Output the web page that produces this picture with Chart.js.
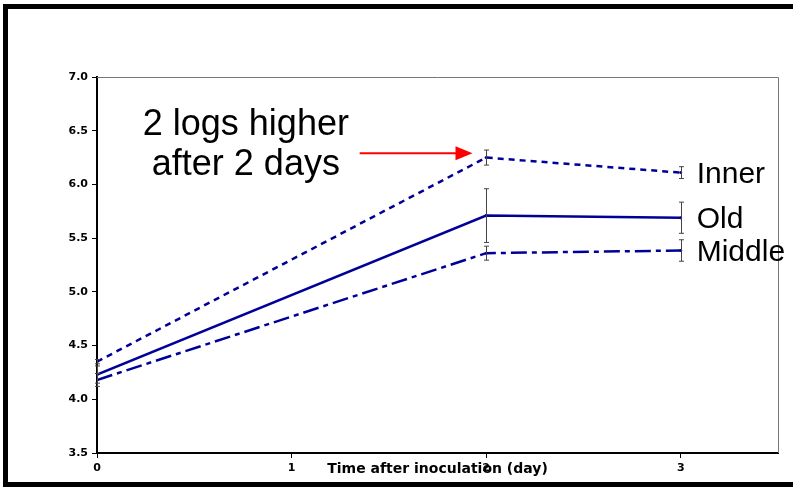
<!DOCTYPE html>
<html>
<head>
<meta charset="utf-8">
<script src="https://cdn.jsdelivr.net/npm/chart.js@4"></script>
<style>
  html, body { margin: 0; padding: 0; background: #fff; overflow: hidden; }
  #frame { position: absolute; left: 3px; top: 4px; width: 820px; height: 473px;
           border-top: 5px solid #000; border-left: 5px solid #000; border-bottom: 5px solid #000; }
  #wrap { position: absolute; left: 0; top: 0; width: 793px; height: 487px; }
</style>
</head>
<body>
<div id="frame"></div>
<div id="wrap"><canvas id="chart"></canvas></div>
<script>
// days after inoculation
const days = [0, 2, 3];
const xTicks = [0, 1, 2, 3];
const yTicks = [3.5, 4.0, 4.5, 5.0, 5.5, 6.0, 6.5, 7.0];

// log counts per zone
const seriesNames = ['Inner', 'Old', 'Middle'];
const inner = [4.35, 6.25, 6.11];
const old = [4.23, 5.71, 5.69];
const middle = [4.18, 5.36, 5.385];

// error bars (+/-)
const innerErr = [0.02, 0.07, 0.055];
const oldErr = [0.08, 0.25, 0.145];
const middleErr = [0.06, 0.065, 0.1];

const xTitle = 'Time after inoculation (day)';
const noteLines = ['2 logs higher', 'after 2 days'];
const noteAt = [0.765, 6.55, 6.18];       // x, y line 1, y line 2
const arrowFrom = [1.35, 6.29];
const arrowTo = [1.93, 6.29];

const navy = '#000099';

function pts(ys) {
  return days.map((d, i) => ({ x: d, y: ys[i] }));
}

const errPlugin = {
  id: 'errbars',
  afterDatasetsDraw(chart) {
    const ctx = chart.ctx;
    const xs = chart.scales.x, ys = chart.scales.y;
    ctx.save();
    ctx.strokeStyle = '#444';
    ctx.lineWidth = 1;
    chart.data.datasets.forEach(ds => {
      ds.data.forEach((p, i) => {
        const e = ds.err[i];
        const px = Math.round(xs.getPixelForValue(p.x)) + 0.5;
        const top = ys.getPixelForValue(p.y + e);
        const bot = ys.getPixelForValue(p.y - e);
        ctx.beginPath();
        ctx.moveTo(px, top); ctx.lineTo(px, bot);
        ctx.moveTo(px - 2.5, top); ctx.lineTo(px + 2.5, top);
        ctx.moveTo(px - 2.5, bot); ctx.lineTo(px + 2.5, bot);
        ctx.stroke();
      });
    });
    ctx.restore();
  }
};

const textPlugin = {
  id: 'texts',
  afterDraw(chart) {
    const ctx = chart.ctx;
    const xs = chart.scales.x, ys = chart.scales.y;
    const a = chart.chartArea;
    ctx.save();
    // plot box top / right
    ctx.strokeStyle = '#777';
    ctx.lineWidth = 1;
    ctx.beginPath();
    ctx.moveTo(a.left, a.top + 0.5); ctx.lineTo(a.right + 0.5, a.top + 0.5);
    ctx.lineTo(a.right + 0.5, a.bottom);
    ctx.stroke();

    // axis title, sitting on the tick label row
    ctx.fillStyle = '#000';
    ctx.font = 'bold 14px "DejaVu Sans"';
    ctx.textAlign = 'center';
    ctx.textBaseline = 'middle';
    ctx.fillText(xTitle, (a.left + a.right) / 2, 469);

    // series names next to last points
    ctx.font = '30px "Liberation Sans"';
    ctx.textAlign = 'left';
    chart.data.datasets.forEach(ds => {
      const last = ds.data[ds.data.length - 1];
      ctx.fillText(ds.label, xs.getPixelForValue(last.x) + 16, ys.getPixelForValue(last.y) + 2);
    });

    // annotation
    ctx.font = '36px "Liberation Sans"';
    ctx.textAlign = 'center';
    ctx.fillText(noteLines[0], xs.getPixelForValue(noteAt[0]), ys.getPixelForValue(noteAt[1]));
    ctx.fillText(noteLines[1], xs.getPixelForValue(noteAt[0]), ys.getPixelForValue(noteAt[2]));

    const x1 = xs.getPixelForValue(arrowFrom[0]), y1 = ys.getPixelForValue(arrowFrom[1]);
    const x2 = xs.getPixelForValue(arrowTo[0]), y2 = ys.getPixelForValue(arrowTo[1]);
    ctx.strokeStyle = '#ff0000';
    ctx.fillStyle = '#ff0000';
    ctx.lineWidth = 2;
    ctx.beginPath();
    ctx.moveTo(x1, y1); ctx.lineTo(x2 - 14, y2);
    ctx.stroke();
    ctx.beginPath();
    ctx.moveTo(x2, y2); ctx.lineTo(x2 - 17, y2 - 7); ctx.lineTo(x2 - 17, y2 + 7);
    ctx.closePath();
    ctx.fill();
    ctx.restore();
  }
};

new Chart(document.getElementById('chart'), {
  type: 'line',
  data: {
    datasets: [
      { label: seriesNames[0], data: pts(inner), err: innerErr, borderColor: navy, borderWidth: 2.5,
        borderDash: [6, 5], pointRadius: 1.5, pointBackgroundColor: navy, pointBorderWidth: 0 },
      { label: seriesNames[1], data: pts(old), err: oldErr, borderColor: navy, borderWidth: 2.5,
        pointRadius: 1.5, pointBackgroundColor: navy, pointBorderWidth: 0 },
      { label: seriesNames[2], data: pts(middle), err: middleErr, borderColor: navy, borderWidth: 2.5,
        borderDash: [16, 5, 5, 5], pointRadius: 1.5, pointBackgroundColor: navy, pointBorderWidth: 0 }
    ]
  },
  options: {
    responsive: true,
    maintainAspectRatio: false,
    animation: false,
    layout: { padding: { top: 77, right: 15, left: 0, bottom: 0 } },
    plugins: { legend: { display: false }, tooltip: { enabled: false } },
    scales: {
      x: {
        type: 'linear', min: 0, max: 3.5,
        afterBuildTicks: s => { s.ticks = xTicks.map(v => ({ value: v })); },
        afterFit: s => { s.height = 34; },
        grid: { display: true, drawOnChartArea: false, tickLength: 5, color: '#000' },
        border: { color: '#000', width: 2 },
        ticks: { color: '#000', font: { family: 'DejaVu Sans', size: 11, weight: 'bold' }, padding: 4,
                 maxRotation: 0 }
      },
      y: {
        min: 3.5, max: 7.0,
        afterBuildTicks: s => { s.ticks = yTicks.map(v => ({ value: v })); },
        afterFit: s => { s.width = 97; },
        grid: { display: true, drawOnChartArea: false, tickLength: 5, color: '#000' },
        border: { color: '#000', width: 2 },
        ticks: { color: '#000', font: { family: 'DejaVu Sans', size: 11, weight: 'bold' }, padding: 4,
                 callback: v => v.toFixed(1) }
      }
    }
  },
  plugins: [errPlugin, textPlugin]
});
</script>
</body>
</html>
